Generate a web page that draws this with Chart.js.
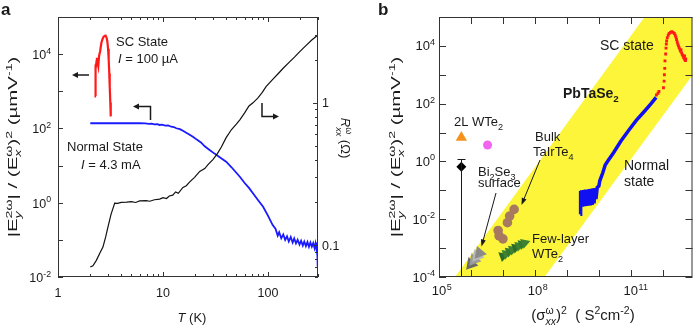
<!DOCTYPE html>
<html>
<head>
<meta charset="utf-8">
<script src="https://cdn.jsdelivr.net/npm/chart.js@4.4.1/dist/chart.umd.min.js"></script>
<style>
  html, body { margin: 0; padding: 0; background: #fff; }
  #wrap { position: relative; width: 700px; height: 326px; overflow: hidden; }
  #chartA { position: absolute; left: 0; top: 0; }
  #chartB { position: absolute; left: 350px; top: 0; }
</style>
</head>
<body>
<div id="wrap">
  <canvas id="chartA" width="362" height="326"></canvas>
  <canvas id="chartB" width="350" height="326"></canvas>
</div>
<script>
// ---------- panel a : temperature dependence ----------
const rxxT = [2.03, 2.15, 2.32, 2.5, 2.68, 2.85, 2.99, 3.2, 3.47, 3.7, 4.0, 4.5, 5.0, 5.5, 6.0, 6.9, 7.5, 8.3, 9.3, 10, 10.8, 11.5, 12.4, 13.2, 14, 15.5, 16.7, 18, 20, 22.4, 25, 27, 29.9, 33, 36, 40, 45, 50, 54, 60, 66, 72, 80, 88, 96, 110, 125, 139, 160, 180, 200, 230, 260, 299];
const rxxOhm = [0.0705, 0.072, 0.0785, 0.088, 0.0973, 0.115, 0.1345, 0.165, 0.198, 0.197, 0.2, 0.201, 0.203, 0.2, 0.205, 0.206, 0.204, 0.209, 0.211, 0.216, 0.213, 0.222, 0.225, 0.237, 0.232, 0.255, 0.262, 0.279, 0.3, 0.33, 0.346, 0.37, 0.4, 0.44, 0.49, 0.57, 0.65, 0.71, 0.76, 0.85, 0.95, 1.0, 1.08, 1.18, 1.3, 1.45, 1.6, 1.74, 1.93, 2.1, 2.28, 2.52, 2.75, 2.99];

const normalT = [2.03, 3, 4, 5, 6, 6.8, 7.3, 7.8, 8.3, 8.8, 9.3, 9.8, 10.5, 11.2, 12, 12.7, 13.4, 14.5, 15.5, 17, 19.3, 21, 23, 25, 27.8, 31, 35, 40, 45, 50, 54, 60, 66, 72, 80, 90, 100, 111, 118, 124, 128, 134, 140, 146, 152, 158, 165, 172, 178, 185, 192, 200, 207, 215, 222, 230, 238, 246, 254, 262, 270, 278, 284, 290, 294, 297, 299];
const normalSignal = [138, 138, 138, 138, 138, 137, 133, 135, 129, 131, 124, 126, 119, 121, 111, 109, 101, 96, 87, 74, 60, 50, 42, 33, 26.4, 21, 16.5, 12.7, 9, 6.4, 5.0, 3.4, 2.5, 1.79, 1.2, 0.78, 0.45, 0.25, 0.2, 0.13, 0.16, 0.11, 0.14, 0.1, 0.125, 0.09, 0.12, 0.085, 0.11, 0.08, 0.1, 0.075, 0.095, 0.07, 0.09, 0.068, 0.088, 0.065, 0.085, 0.066, 0.082, 0.06, 0.08, 0.055, 0.085, 0.03, 0.019];

const scT = [2.30, 2.28, 2.27, 2.29, 2.33, 2.35, 2.38, 2.42, 2.46, 2.52, 2.59, 2.65, 2.72, 2.78, 2.84, 2.90, 2.95, 3.00, 3.04, 3.08, 3.11, 3.15, 3.18];
const scSignal = [733, 2500, 5250, 4000, 6500, 7950, 6000, 4740, 8830, 12000, 20200, 25000, 29400, 31000, 31600, 28000, 22300, 14000, 7180, 3000, 1365, 500, 211];

const aTempTicks = [1, 2, 3, 4, 5, 6, 7, 8, 9, 10, 20, 30, 40, 50, 60, 70, 80, 90, 100, 200, 300];
const aTempLabels = [1, 10, 100];
const aSignalTicks = [1e-2, 1e-1, 1, 10, 100, 1e3, 1e4, 1e5];
const aSignalLabels = [1e-2, 1, 1e2, 1e4];
const aRxxTicks = [0.06, 0.07, 0.08, 0.09, 0.1, 0.2, 0.3, 0.4, 0.5, 0.6, 0.7, 0.8, 0.9, 1, 2, 3, 4];
const aRxxLabels = [0.1, 1];

// ---------- panel b : scaling with conductivity ----------
const bandUpperX = [1e5, 3.16e5, 2.69e11, 1e13];
const bandUpperY = [1e-4, 1e-4, 1e5, 1e5];
const bandLowerX = [1e5, 2.0e8, 1e13];
const bandLowerY = [1e-4, 1e-4, 1230];

const pbNormalX = [2.63e9, 2.63e9, 2.75e9, 2.88e9, 3.09e9, 3.31e9, 3.55e9, 3.80e9, 4.07e9, 4.37e9, 4.68e9, 5.01e9, 5.37e9, 5.75e9, 6.17e9, 6.61e9, 7.08e9, 7.59e9, 8.13e9, 8.91e9, 1.0e10, 1.07e10, 1.32e10, 1.58e10, 2.0e10, 2.88e10, 4.79e10, 8.51e10, 1.48e11, 2.63e11, 4.37e11, 6.17e11];
const pbNormalY = [0.0148, 0.0955, 0.0263, 0.1, 0.0275, 0.102, 0.0282, 0.105, 0.0288, 0.107, 0.0295, 0.11, 0.0302, 0.112, 0.0316, 0.117, 0.0355, 0.12, 0.05, 0.126, 0.141, 0.214, 0.398, 0.759, 1.12, 2.0, 4.9, 11.7, 26.3, 53.7, 102, 166];

const pbScX = [6.31e11, 7.08e11, 7.59e11, 1.05e12, 1.10e12, 1.12e12, 1.15e12, 1.17e12, 1.23e12, 1.26e12, 1.29e12, 1.32e12, 1.38e12, 1.48e12, 1.58e12, 1.74e12, 1.91e12, 2.09e12, 2.29e12, 2.45e12, 2.57e12, 2.69e12, 2.82e12, 2.95e12, 3.09e12, 3.24e12, 3.39e12, 3.55e12, 3.72e12, 3.89e12, 4.07e12, 4.27e12, 4.47e12, 4.68e12, 4.90e12, 5.13e12, 5.25e12, 4.79e12];
const pbScY = [200, 229, 263, 355, 603, 1000, 1660, 3020, 5250, 8320, 11500, 14800, 19100, 23400, 26900, 29500, 30900, 29500, 26900, 23400, 20000, 16600, 13800, 11500, 10000, 8710, 7760, 6610, 7240, 5750, 5010, 4570, 3980, 3720, 3310, 3090, 3550, 4470];

const wte2BilayerX = [5.0e5];
const wte2BilayerY = [6.8];
const diamondX = [5.0e5];
const diamondY = [0.66];
const diamondErrHigh = [1.2];
const circleX = [3.3e6];
const circleY = [3.7];
const taIrTe4X = [2.24e7, 1.62e7, 1.38e7, 7.08e6, 7.59e6, 1.0e7];
const taIrTe4Y = [0.0219, 0.0129, 0.00759, 0.00407, 0.00263, 0.00209];
const bi2se3X = [1.0e6, 1.25e6, 1.55e6, 1.85e6];
const bi2se3Y = [2.8e-4, 3.9e-4, 5.3e-4, 6.8e-4];
const fewLayerX = [1.0e7, 1.26e7, 1.58e7, 2.0e7, 2.51e7, 3.16e7, 3.98e7, 4.79e7];
const fewLayerY = [5.25e-4, 6.3e-4, 7.6e-4, 8.9e-4, 1.05e-3, 1.2e-3, 1.38e-3, 1.51e-3];

const bSigmaTicks = [1e5, 1e6, 1e7, 1e8, 1e9, 1e10, 1e11, 1e12];
const bSigmaLabels = [1e5, 1e8, 1e11];
const bSignalTicks = [1e-4, 1e-3, 1e-2, 1e-1, 1, 10, 100, 1e3, 1e4, 1e5];
const bSignalLabels = [1e-4, 1e-2, 1, 1e2, 1e4];

// ---------- helpers ----------
const FONT = '"Liberation Sans", Arial, Helvetica, sans-serif';
const INK = '#1a1a1a';
const AXIS = '#333';

function pairs(xs, ys) { return xs.map((x, i) => ({ x: x, y: ys[i] })); }

function line(ctx, x1, y1, x2, y2) {
  ctx.beginPath(); ctx.moveTo(x1, y1); ctx.lineTo(x2, y2); ctx.stroke();
}

const KINDS = {
  n: ['', 1, 0], i: ['italic ', 1, 0], b: ['bold ', 1, 0],
  sup: ['', 0.7, -0.42], sub: ['', 0.7, 0.28], bsub: ['bold ', 0.7, 0.3]
};

// text with super/subscripts; 'ss' = superscript stacked over an italic subscript
function rich(ctx, parts, x, y, size, align) {
  const run = (x0, draw) => {
    let cx = x0;
    parts.forEach(([t, k]) => {
      if (k === 'ss') {
        const s = size * 0.7;
        ctx.font = s + 'px ' + FONT;
        const w1 = ctx.measureText(t[0]).width;
        if (draw) ctx.fillText(t[0], cx, y - size * 0.42);
        ctx.font = 'italic ' + s + 'px ' + FONT;
        const w2 = ctx.measureText(t[1]).width;
        if (draw) ctx.fillText(t[1], cx, y + size * 0.32);
        cx += Math.max(w1, w2);
      } else {
        const [st, sc, dy] = KINDS[k];
        ctx.font = st + (size * sc) + 'px ' + FONT;
        if (draw) ctx.fillText(t, cx, y + size * dy);
        cx += ctx.measureText(t).width;
      }
    });
    return cx - x0;
  };
  const w = run(0, false);
  const x0 = align === 'center' ? x - w / 2 : align === 'right' ? x - w : x;
  run(x0, true);
}

// rotated title; the original lettering is spread out along the axis
function richRot(ctx, parts, x, y, size, ang, stretch) {
  ctx.save(); ctx.translate(x, y); ctx.rotate(ang); ctx.scale(stretch || 1, 1);
  rich(ctx, parts, 0, 0, size, 'center');
  ctx.restore();
}

function decade(v) { return [['10', 'n'], [String(Math.round(Math.log10(v))), 'sup']]; }

function arrow(ctx, pts, head, hw, lw) {
  const n = pts.length;
  const [x1, y1] = pts[n - 2], [x2, y2] = pts[n - 1];
  const ang = Math.atan2(y2 - y1, x2 - x1);
  const c = Math.cos(ang), s = Math.sin(ang);
  ctx.lineWidth = lw;
  ctx.beginPath();
  ctx.moveTo(pts[0][0], pts[0][1]);
  for (let i = 1; i < n - 1; i++) ctx.lineTo(pts[i][0], pts[i][1]);
  ctx.lineTo(x2 - head * 0.8 * c, y2 - head * 0.8 * s);
  ctx.stroke();
  ctx.beginPath();
  ctx.moveTo(x2, y2);
  ctx.lineTo(x2 - head * c + hw * s, y2 - head * s - hw * c);
  ctx.lineTo(x2 - head * c - hw * s, y2 - head * s + hw * c);
  ctx.closePath(); ctx.fill();
}

const yTitle = [['|E', 'n'], [['2ω', 'y'], 'ss'], ['| / (E', 'n'], [['ω', 'x'], 'ss'], [')', 'n'], ['2', 'sup'], [' (µmV', 'n'], ['-1', 'sup'], [')', 'n']];

// ---------- panel a decorations ----------
function drawPanelA(chart) {
  const ctx = chart.ctx, a = chart.chartArea;
  const sx = chart.scales.x, sy = chart.scales.y, sr = chart.scales.y1;
  ctx.save();
  ctx.textAlign = 'left'; ctx.textBaseline = 'alphabetic';
  ctx.strokeStyle = AXIS; ctx.fillStyle = INK; ctx.lineWidth = 1;
  ctx.strokeRect(a.left + 0.5, a.top + 0.5, a.right - a.left - 1, a.bottom - a.top - 1);

  aTempTicks.forEach(v => {
    const px = Math.round(sx.getPixelForValue(v)) + 0.5;
    const len = aTempLabels.includes(v) ? 5 : 3;
    line(ctx, px, a.bottom, px, a.bottom - len);
    line(ctx, px, a.top, px, a.top + len);
  });
  aSignalTicks.forEach(v => {
    const py = Math.round(sy.getPixelForValue(v)) + 0.5;
    line(ctx, a.left, py, a.left + 5, py);
  });
  aRxxTicks.forEach(v => {
    const py = Math.round(sr.getPixelForValue(v)) + 0.5;
    const len = aRxxLabels.includes(v) ? 5 : 3;
    line(ctx, a.right, py, a.right - len, py);
  });

  aTempLabels.forEach(v => rich(ctx, [[String(v), 'n']], sx.getPixelForValue(v), 297, 12.5, 'center'));
  aSignalLabels.forEach(v => rich(ctx, decade(v), a.left - 7, sy.getPixelForValue(v) + 5, 12.5, 'right'));
  aRxxLabels.forEach(v => rich(ctx, [[String(v), 'n']], a.right + 4, sr.getPixelForValue(v) + 4.5, 12.5, 'left'));

  rich(ctx, [['T', 'i'], [' (K)', 'n']], (a.left + a.right) / 2 + 4, 322, 13, 'center');
  richRot(ctx, yTitle, 17, (a.top + a.bottom) / 2, 12, -Math.PI / 2, 1.7);
  richRot(ctx, [['R', 'i'], [['ω', 'xx'], 'ss'], [' (Ω)', 'n']], 340.5, 138, 13, Math.PI / 2, 1);

  rich(ctx, [['a', 'b']], 1, 15, 17, 'left');
  rich(ctx, [['SC State', 'n']], 116, 46, 13, 'left');
  rich(ctx, [['I', 'i'], [' = 100 µA', 'n']], 118, 63, 13, 'left');
  rich(ctx, [['Normal State', 'n']], 67, 151, 13, 'left');
  rich(ctx, [['I', 'i'], [' = 4.3 mA', 'n']], 81, 169, 13, 'left');

  ctx.strokeStyle = INK;
  arrow(ctx, [[89, 75], [72, 75]], 6, 3, 1.5);
  arrow(ctx, [[150.5, 120], [150.5, 106.5], [133, 106.5]], 6, 3, 1.5);
  arrow(ctx, [[262, 103], [262, 116.5], [279, 116.5]], 6, 3, 1.5);
  ctx.restore();
}

// ---------- panel b decorations ----------
function drawPanelB(chart) {
  const ctx = chart.ctx, a = chart.chartArea;
  const sx = chart.scales.x, sy = chart.scales.y;
  ctx.save();
  ctx.textAlign = 'left'; ctx.textBaseline = 'alphabetic';
  ctx.fillStyle = INK; ctx.strokeStyle = INK; ctx.lineWidth = 1;

  // error bar of the black diamond
  const ex = Math.round(sx.getPixelForValue(diamondX[0])) + 0.5;
  const et = Math.round(sy.getPixelForValue(diamondErrHigh[0])) + 0.5;
  line(ctx, ex, a.bottom, ex, et);
  line(ctx, ex - 4, et, ex + 4, et);

  ctx.strokeStyle = AXIS;
  ctx.strokeRect(a.left + 0.5, a.top + 0.5, a.right - a.left - 1, a.bottom - a.top - 1);
  bSigmaTicks.forEach(v => {
    const px = Math.round(sx.getPixelForValue(v)) + 0.5;
    line(ctx, px, a.bottom, px, a.bottom - 7);
    line(ctx, px, a.top, px, a.top + 7);
  });
  bSignalTicks.forEach(v => {
    const py = Math.round(sy.getPixelForValue(v)) + 0.5;
    line(ctx, a.left, py, a.left + 7, py);
    line(ctx, a.right, py, a.right - 7, py);
  });

  bSigmaLabels.forEach(v => {
    const px = sx.getPixelForValue(v);
    ctx.font = '13px ' + FONT;
    const w = ctx.measureText('10').width;
    ctx.fillText('10', px - w / 2, 295);
    ctx.font = '9px ' + FONT;
    ctx.fillText(String(Math.round(Math.log10(v))), px + w / 2 + 0.5, 289.5);
  });
  bSignalLabels.forEach(v => rich(ctx, decade(v), a.left - 4, sy.getPixelForValue(v) + 4.5, 13, 'right'));

  rich(ctx, [['(σ', 'n'], [['ω', 'xx'], 'ss'], [')', 'n'], ['2', 'sup'], ['  ( S', 'n'], ['2', 'sup'], ['cm', 'n'], ['-2', 'sup'], [')', 'n']], 233, 320, 15, 'center');
  richRot(ctx, yTitle, 50, (a.top + a.bottom) / 2, 12, -Math.PI / 2, 1.7);

  rich(ctx, [['b', 'b']], 28, 15, 17, 'left');
  rich(ctx, [['SC state', 'n']], 250, 50, 14, 'left');
  rich(ctx, [['PbTaSe', 'b'], ['2', 'bsub']], 213, 98, 14, 'left');
  rich(ctx, [['2L WTe', 'n'], ['2', 'sub']], 104, 126, 13, 'left');
  rich(ctx, [['Bulk', 'n']], 185, 141, 13, 'left');
  rich(ctx, [['TaIrTe', 'n'], ['4', 'sub']], 183, 156, 13, 'left');
  rich(ctx, [['Bi', 'n'], ['2', 'sub'], ['Se', 'n'], ['3', 'sub']], 128, 176, 13, 'left');
  rich(ctx, [['surface', 'n']], 128, 187, 13, 'left');
  rich(ctx, [['Normal', 'n']], 274, 170, 14, 'left');
  rich(ctx, [['state', 'n']], 274, 186, 14, 'left');
  rich(ctx, [['Few-layer', 'n']], 182, 243, 13, 'left');
  rich(ctx, [['WTe', 'n'], ['2', 'sub']], 182, 258, 13, 'left');

  ctx.strokeStyle = INK;
  arrow(ctx, [[190, 160], [171.5, 205]], 7, 2.5, 1);
  arrow(ctx, [[146, 193], [131.5, 246.5]], 7, 2.5, 1);
  ctx.restore();
}

// ---------- charts ----------
const common = {
  responsive: false,
  animation: false,
  events: [],
  plugins: { legend: { display: false }, tooltip: { enabled: false } }
};

new Chart(document.getElementById('chartA'), {
  type: 'scatter',
  data: {
    datasets: [
      { data: pairs(rxxT, rxxOhm), yAxisID: 'y1', showLine: true, borderColor: '#111', borderWidth: 1.2, pointRadius: 0 },
      { data: pairs(normalT, normalSignal), yAxisID: 'y', showLine: true, borderColor: '#1a1aff', borderWidth: 1.8, pointRadius: 0 },
      { data: pairs(scT, scSignal), yAxisID: 'y', showLine: true, borderColor: '#ff1a1a', borderWidth: 2.2, pointRadius: 0 }
    ]
  },
  options: Object.assign({}, common, {
    layout: { padding: { left: 58, right: 44, top: 17, bottom: 49 } },
    scales: {
      x: { type: 'logarithmic', min: 1, max: 300, display: false },
      y: { type: 'logarithmic', min: 1e-2, max: 1e5, display: false },
      y1: { type: 'logarithmic', position: 'right', min: 0.06, max: 4, display: false }
    }
  }),
  plugins: [{ id: 'decorA', afterDraw: drawPanelA }]
});

const markers = (xs, ys, extra) => Object.assign({ data: pairs(xs, ys), showLine: false, pointBorderWidth: 0 }, extra);

new Chart(document.getElementById('chartB'), {
  type: 'scatter',
  data: {
    datasets: [
      { data: pairs(bandUpperX, bandUpperY), showLine: true, fill: '+1', backgroundColor: '#fcf53a', borderColor: 'rgba(0,0,0,0)', borderWidth: 0, pointRadius: 0, order: 10 },
      { data: pairs(bandLowerX, bandLowerY), showLine: true, fill: false, borderColor: 'rgba(0,0,0,0)', borderWidth: 0, pointRadius: 0, order: 10 },
      markers(wte2BilayerX, wte2BilayerY, { pointStyle: 'triangle', pointRadius: 6.5, backgroundColor: '#f5921e' }),
      markers(diamondX, diamondY, { pointStyle: 'rectRot', pointRadius: 5, backgroundColor: '#000' }),
      markers(circleX, circleY, { pointStyle: 'circle', pointRadius: 4.5, backgroundColor: '#f064f0' }),
      markers(taIrTe4X, taIrTe4Y, { pointStyle: 'circle', pointRadius: 4.8, backgroundColor: '#a77a60' }),
      markers(bi2se3X, bi2se3Y, { pointStyle: 'triangle', rotation: 220, pointRadius: 7.5, backgroundColor: ['#6a6a6a', '#9a9a9a', '#b8b8b8', '#8a8a8a'] }),
      markers(fewLayerX, fewLayerY, { pointStyle: 'triangle', rotation: 70, pointRadius: 6, backgroundColor: ['#2e6b28', '#3c8232', '#347a2c', '#3c8232', '#2e6b28', '#3c8232', '#347a2c', '#3c8232'] }),
      { data: pairs(pbNormalX, pbNormalY), showLine: true, borderColor: '#1010f0', borderWidth: 3.5, pointRadius: 0 },
      markers(pbScX, pbScY, { pointStyle: 'rect', pointRadius: 2, backgroundColor: '#ff1a1a' })
    ]
  },
  options: Object.assign({}, common, {
    layout: { padding: { left: 89, right: 3, top: 17, bottom: 49 } },
    scales: {
      x: { type: 'logarithmic', min: 1e5, max: 8.5e12, display: false },
      y: { type: 'logarithmic', min: 1e-4, max: 1e5, display: false }
    }
  }),
  plugins: [{ id: 'decorB', afterDraw: drawPanelB }]
});
</script>
</body>
</html>
